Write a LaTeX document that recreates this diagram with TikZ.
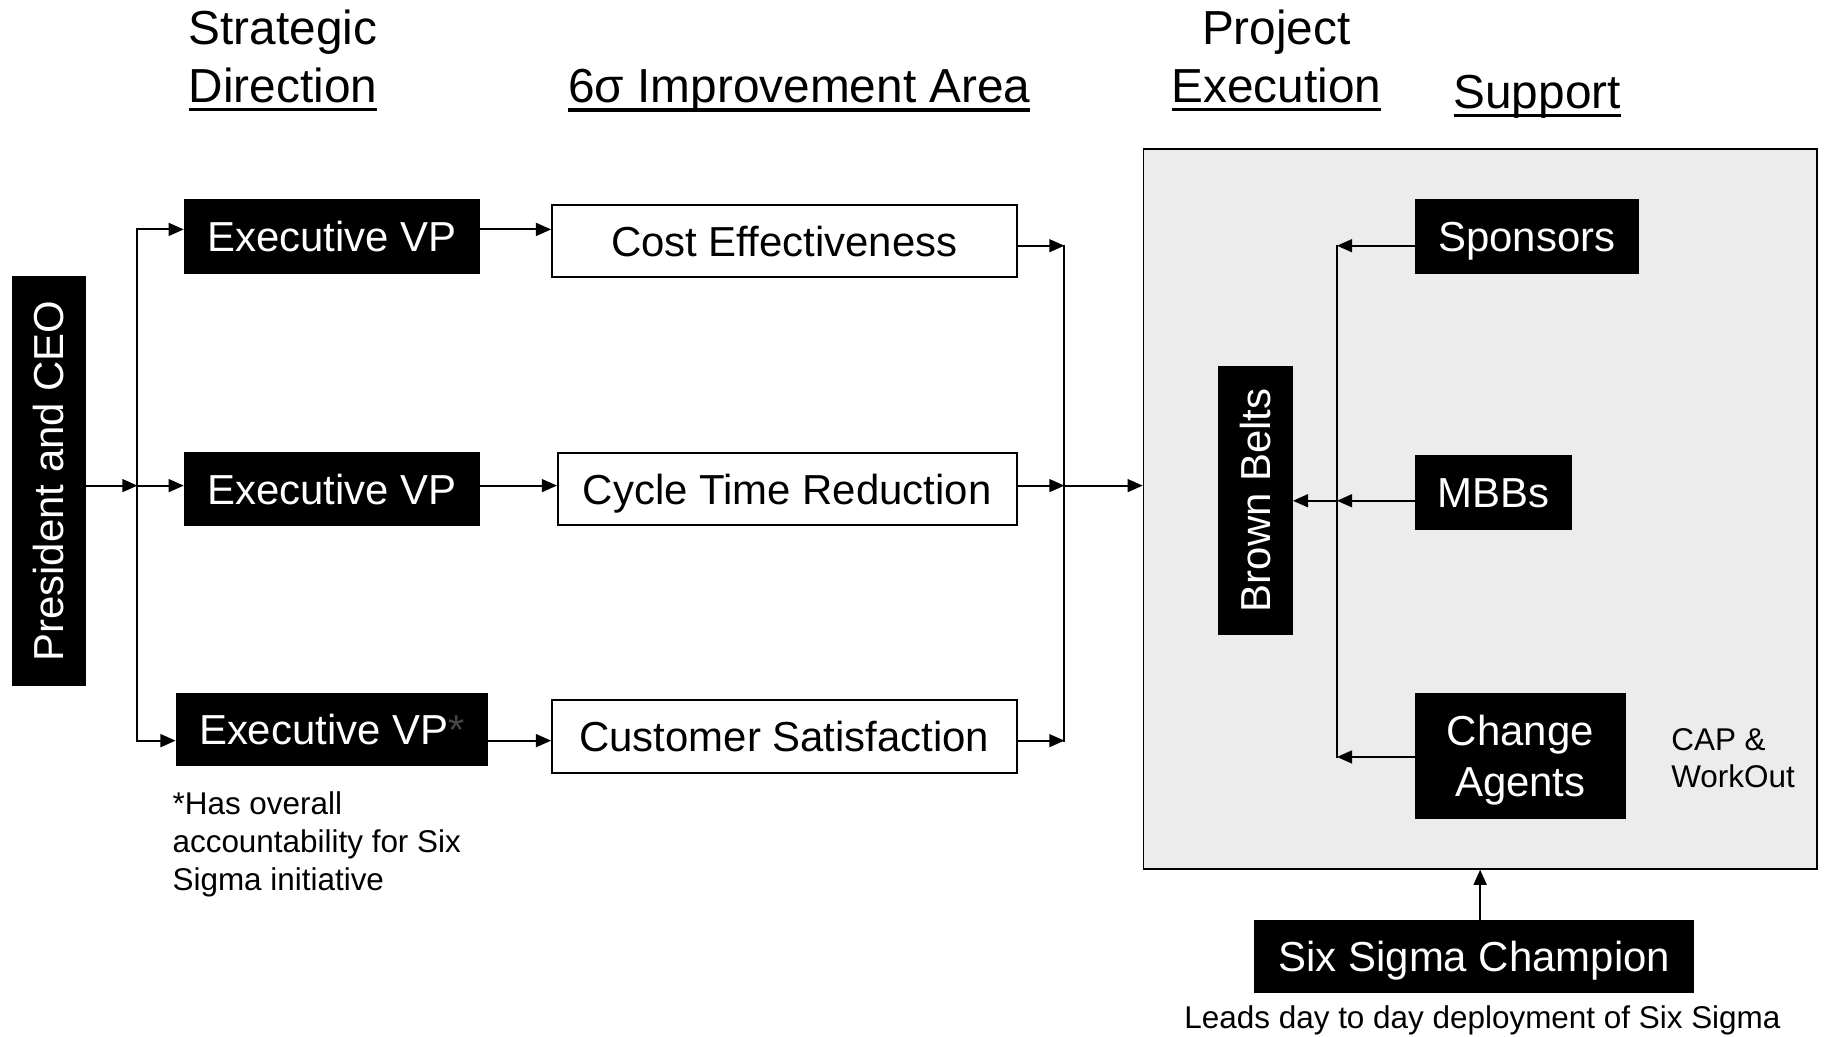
\documentclass[tikz,border=0pt]{standalone}
\usepackage{fontspec}
\setmainfont{Liberation Sans}
\usetikzlibrary{arrows.meta}
\newlength\myulw
\newcommand\myul[1]{\settowidth{\myulw}{#1}\rlap{\rule[-7.8pt]{\myulw}{2.8pt}}#1}
\definecolor{panelgray}{RGB}{236,236,236}
\definecolor{astgray}{RGB}{70,70,70}
\tikzset{
 blk/.style={fill=black, text=white, inner sep=0pt, font=\fontsize{36}{44}\selectfont, align=center},
 wht/.style={draw=black, line width=1.5pt, fill=white, inner sep=0pt, font=\fontsize{36}{44}\selectfont},
 capline/.style={text height=26pt, text depth=0pt},
 arr/.style={line width=1.8pt, -{Triangle[length=13pt,width=11pt]}},
 ln/.style={line width=1.8pt, line cap=rect},
 hdr/.style={font=\fontsize{41}{50}\selectfont, align=center, inner sep=0pt},
 note/.style={font=\fontsize{27}{32.5}\selectfont, inner sep=0pt},
}
\begin{document}
\begin{tikzpicture}[x=1pt,y=-1pt]
\useasboundingbox (0,0) rectangle (1568,890);

% headers
\node[hdr, anchor=north] (h1) at (243,8) {Strategic\\\myul{Direction}};
\node[hdr, anchor=base] (h2) at (686.5,88) {\myul{6σ Improvement Area}};
\node[hdr, anchor=north] (h3) at (1096,8) {Project\\\myul{Execution}};
\node[hdr, anchor=base] (h4) at (1320,93) {\myul{Support}};

% left part
\node[blk, minimum width=64pt, minimum height=352pt] (ceo) at (42,413) {\rotatebox{90}{President and CEO}};
\node[blk, capline, minimum width=254pt, minimum height=64pt] (vp1) at (285,203) {Executive VP};
\node[blk, capline, minimum width=254pt, minimum height=64pt] (vp2) at (285,420) {Executive VP};
\node[blk, capline, minimum width=268pt, minimum height=63pt] (vp3) at (285,626.5) {Executive VP\textcolor{astgray}{*}};
\node[note, anchor=north west, align=left] (fn) at (148,680) {*Has overall\\accountability for Six\\Sigma initiative};

\node[wht, capline, minimum width=399pt, minimum height=62pt] (ce) at (673.5,207) {Cost Effectiveness};
\node[wht, capline, minimum width=394pt, minimum height=62pt] (ct) at (676,420) {Cycle Time Reduction};
\node[wht, capline, minimum width=399pt, minimum height=63pt] (cs) at (673.5,632.5) {Customer Satisfaction};

% right panel
\node[draw=black, line width=1.5pt, fill=panelgray, minimum width=578pt, minimum height=618pt, inner sep=0pt] (panel) at (1271,437) {};
\node[blk, minimum width=64pt, minimum height=231pt] (bb) at (1078,429.5) {\rotatebox{90}{Brown Belts}};
\node[blk, capline, minimum width=192pt, minimum height=64pt] (spon) at (1311,203) {Sponsors};
\node[blk, capline, minimum width=135pt, minimum height=64pt] (mbb) at (1282.5,423) {MBBs};
\node[fill=black, text=white, inner sep=0pt, font=\fontsize{36}{44}\selectfont, text height=26pt, text depth=44pt, minimum width=181pt, minimum height=108pt] (ca) at (1305.5,649) {\begin{tabular}[t]{@{}c@{}}Change\\Agents\end{tabular}};
\node[note, anchor=west, align=left] (cap) at (1435,651) {CAP \&\\WorkOut};

\node[blk, capline, minimum width=378pt, minimum height=63pt] (ssc) at (1266,821.5) {Six Sigma Champion};
\node[note] (leads) at (1273,876) {Leads day to day deployment of Six Sigma};

% connectors left
\coordinate (ja) at (118,197);
\coordinate (jm) at (118,417);
\coordinate (jb) at (118,636);
\draw[arr] (ceo.east |- jm) -- (jm);
\draw[ln] (ja) -- (jb);
\draw[arr] (ja) -- (ja -| vp1.west);
\draw[arr] (jm) -- (jm -| vp2.west);
\draw[arr] (jb) -- (jb -| vp3.west);
\draw[arr] (ja -| vp1.east) -- (ja -| ce.west);
\draw[arr] (jm -| vp2.east) -- (jm -| ct.west);
\draw[arr] (jb -| vp3.east) -- (jb -| cs.west);

% connectors middle
\coordinate (ka) at (914,211);
\coordinate (km) at (914,417);
\coordinate (kb) at (914,636);
\draw[arr] (ka -| ce.east) -- (ka);
\draw[arr] (km -| ct.east) -- (km);
\draw[arr] (kb -| cs.east) -- (kb);
\draw[ln] (ka) -- (kb);
\draw[arr] (km) -- (km -| panel.west);

% connectors right
\coordinate (sa) at (1148,211);
\coordinate (sm) at (1148,430);
\coordinate (sb) at (1148,650);
\draw[ln] (sa) -- (sb);
\draw[arr] (sa -| spon.west) -- (sa);
\draw[arr] (sm -| mbb.west) -- (sm);
\draw[arr] (sb -| ca.west) -- (sb);
\draw[arr] (sm) -- (sm -| bb.east);
\draw[arr] (ssc.north -| panel.south) -- (panel.south);
\end{tikzpicture}
\end{document}
